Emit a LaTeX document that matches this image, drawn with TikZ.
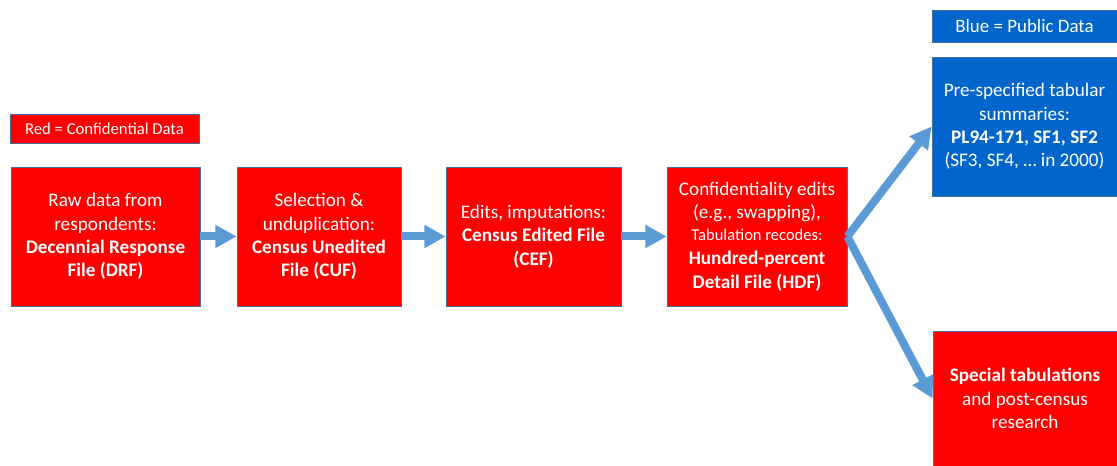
\documentclass[tikz,border=0pt]{standalone}
\usepackage{fontspec}
\setmainfont{Carlito}
\usetikzlibrary{arrows.meta,positioning}
\definecolor{confred}{HTML}{FF0000}
\definecolor{pubblue}{HTML}{0066CC}
\definecolor{flowblue}{HTML}{5B9BD5}
\definecolor{edgeblue}{HTML}{41719C}
\tikzset{
  stage/.style={fill=confred,draw=edgeblue,line width=0.6pt,text=white,
    align=center,inner sep=0pt,minimum height=104.25pt,
    font=\fontsize{14.4}{17.5}\selectfont},
  pubstage/.style={stage,fill=pubblue},
  keybox/.style={fill=confred,draw=edgeblue,line width=0.6pt,text=white,
    align=center,inner sep=0pt,font=\fontsize{12.5}{15}\selectfont},
  flow/.style={draw=flowblue,line width=6pt,
    -{Triangle[length=16pt,width=16.5pt]}},
}
\begin{document}
\begin{tikzpicture}[x=0.75pt,y=-0.75pt]
  \useasboundingbox (0,0) rectangle (1117,466);
  % legends
  \node[keybox,minimum width=141.75pt,minimum height=21.75pt] (redkey)
    at (104.5,128.5) {Red = Confidential Data};
  \node[keybox,fill=pubblue,minimum width=138.75pt,minimum height=24pt,
    font=\fontsize{14.2}{17}\selectfont] (bluekey)
    at (1024.5,26) {Blue = Public Data};
  % processing chain
  \node[stage,minimum width=141.75pt] (drf) at (105.5,236.5)
    {Raw data from\\respondents:\\\textbf{Decennial Response}\\\textbf{File (DRF)}};
  \node[stage,minimum width=123pt] (cuf) at (319,236.5)
    {Selection \&\\unduplication:\\\textbf{Census Unedited}\\\textbf{File (CUF)}};
  \node[stage,minimum width=131.25pt] (cef) at (533.5,236.5)
    {Edits, imputations:\\\textbf{Census Edited File}\\\textbf{(CEF)}};
  \node[stage,minimum width=135pt] (hdf) at (757,236.5)
    {Confidentiality edits\\(e.g., swapping),\\[-1.5pt]{\fontsize{12.4}{15}\selectfont Tabulation recodes:}\\[1pt]\textbf{Hundred-percent}\\\textbf{Detail File (HDF)}};
  % outputs
  \node[pubstage,minimum width=138.75pt] (pub) at (1024.5,126.5)
    {Pre-specified tabular\\summaries:\\\textbf{PL94-171, SF1, SF2}\\(SF3, SF4, \ldots\ in 2000)};
  \node[stage,minimum width=138pt,minimum height=101.25pt] (spec) at (1025,398.5)
    {\textbf{Special tabulations}\\and post-census\\research};
  % arrows
  \draw[flow] (drf) -- (cuf);
  \draw[flow] (cuf) -- (cef);
  \draw[flow] (cef) -- (hdf);
  \draw[flow] (hdf.east) -- (pub.west);
  \draw[flow] (hdf.east) -- (spec.west);
\end{tikzpicture}
\end{document}
